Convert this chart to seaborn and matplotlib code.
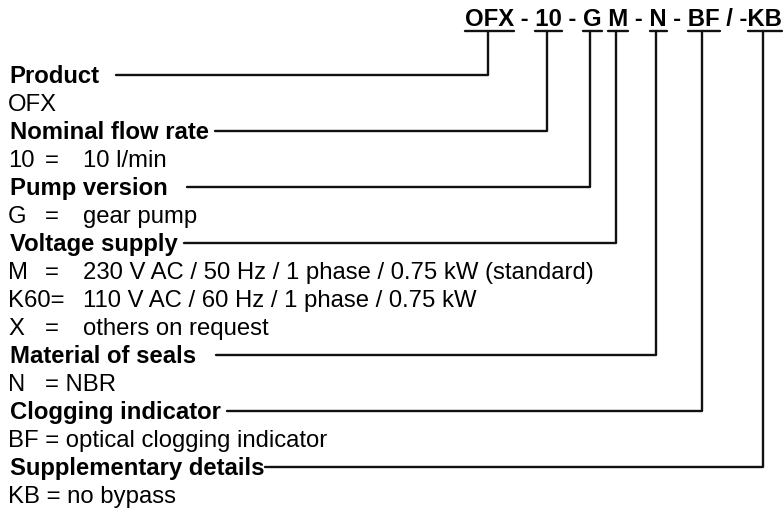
import seaborn as sns
import matplotlib.pyplot as plt
import pandas as pd

# Type code: underlined segments and the separators that follow them
codes = ["OFX", "10", "G", "M", "N", "BF", "KB"]
separators = [" - ", " - ", " ", " - ", " - ", " / -", ""]

# Key to the code: one heading per segment, then its option lines
headings = ["Product", "Nominal flow rate", "Pump version", "Voltage supply",
            "Material of seals", "Clogging indicator", "Supplementary details"]
heading_gap = [2.5, 1, 3, 1, 3, 1, 0.2]  # gap before the leader line, in spaces
options = [
    ["OFX"],
    ["10\t=\t10 l/min"],
    ["G\t=\tgear pump"],
    ["M\t=\t230 V AC / 50 Hz / 1 phase / 0.75 kW (standard)",
     "K60=\t110 V AC / 60 Hz / 1 phase / 0.75 kW",
     "X\t=\tothers on request"],
    ["N\t= NBR"],
    ["BF = optical clogging indicator"],
    ["KB = no bypass"],
]

W, H = 783, 509
FS = 17.2
PX = FS * 100 / 72          # font size in pixels
CAP = 0.716 * PX / 2        # half cap height, to centre text on a row
ROW0, ROW_STEP = 74.5, 28.0
TABS = [45, 83]
LEFT = 8
CODE_RIGHT, CODE_BASE, UNDERLINE = 782, 26, 30.7

sns.set_theme(style="white")
plt.rcParams["font.family"] = ["Liberation Sans", "DejaVu Sans"]

fig = plt.figure(figsize=(W / 100, H / 100), dpi=100)
ax = fig.add_axes([0, 0, 1, 1])
renderer = fig.canvas.get_renderer()


def width(s, weight="normal"):
    t = ax.text(0, 0, s, fontsize=FS, fontweight=weight)
    w = t.get_window_extent(renderer).width
    t.remove()
    return w


# top type code
full = "".join(c + s for c, s in zip(codes, separators))
code_left = CODE_RIGHT - width(full, "bold")
ax.text(code_left, CODE_BASE, full, fontsize=FS, fontweight="bold",
        ha="left", va="baseline", color="black")

paths = []
r = 0
prefix = ""
for i, (head, opts) in enumerate(zip(headings, options)):
    y = ROW0 + ROW_STEP * r
    ax.text(LEFT + 1.5, y + CAP, head, fontsize=FS, fontweight="bold",
            ha="left", va="baseline", color="black")
    head_end = LEFT + 1.5 + width(head, "bold") + heading_gap[i] * 0.278 * PX

    prefix += codes[i]
    seg_end = code_left + width(prefix, "bold")
    seg_start = seg_end - width(codes[i], "bold")
    prefix += separators[i]
    cx = (seg_start + seg_end) / 2 - 2
    paths += [(f"u{i}", seg_start, UNDERLINE), (f"u{i}", seg_end, UNDERLINE)]
    paths += [(f"c{i}", cx, UNDERLINE), (f"c{i}", cx, y), (f"c{i}", head_end, y)]
    r += 1

    for line in opts:
        y = ROW0 + ROW_STEP * r
        x = LEFT
        for k, part in enumerate(line.split("\t")):
            if k > 0:
                x = next((t for t in TABS if t > x + 2), x + 8)
            ax.text(x, y + CAP, part, fontsize=FS, ha="left", va="baseline",
                    color="black")
            x = x + width(part)
        r += 1

df = pd.DataFrame(paths, columns=["unit", "x", "y"])
sns.lineplot(data=df, x="x", y="y", units="unit", estimator=None, sort=False,
             color="#111111", lw=1.7, ax=ax, legend=False)

ax.set_xlim(0, W)
ax.set_ylim(H, 0)
ax.axis("off")
fig.savefig("out.png", dpi=100, facecolor="white")
